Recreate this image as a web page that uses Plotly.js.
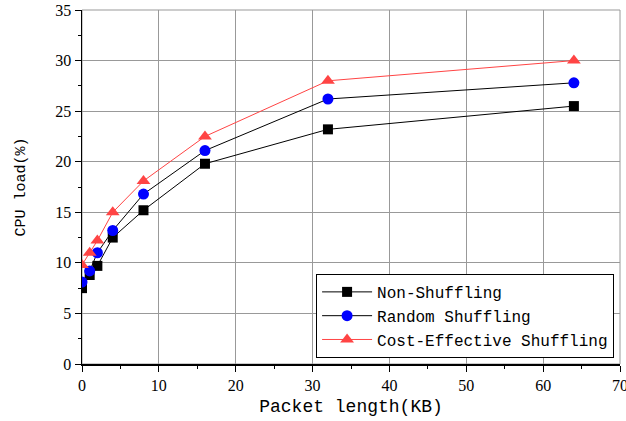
<!DOCTYPE html>
<html><head><meta charset="utf-8">
<script src="https://cdn.plot.ly/plotly-3.0.1.min.js"></script>
<style>body{margin:0;background:#fff}#c{width:626px;height:421px}</style>
</head><body><div id="c"></div>
<script>
const packetLength = [0, 1, 2, 4, 8, 16, 32, 64];
const nonShuffling = [7.5, 8.8, 9.7, 12.5, 15.2, 19.8, 23.2, 25.5];
const randomShuffling = [8.1, 9.2, 11.0, 13.2, 16.8, 21.1, 26.2, 27.8];
const costEffective = [9.8, 11.0, 12.2, 15.0, 18.1, 22.5, 28.0, 30.0];
const seriesNames = ["Non-Shuffling", "Random Shuffling", "Cost-Effective Shuffling"];

const mono = "Liberation Mono, monospace";
const serif = "Liberation Serif, serif";
const traces = [
  {x: packetLength, y: nonShuffling, name: seriesNames[0], mode: "lines+markers",
   line: {color: "#000", width: 1}, marker: {symbol: "square", size: 10, color: "#000"}},
  {x: packetLength, y: randomShuffling, name: seriesNames[1], mode: "lines+markers",
   line: {color: "#000", width: 1}, marker: {symbol: "circle", size: 11, color: "#0000ff"}},
  {x: packetLength, y: costEffective, name: seriesNames[2], mode: "lines+markers",
   line: {color: "#ff4444", width: 1}, marker: {symbol: "triangle-up", size: 12, color: "#ff4444"}}
];
const layout = {
  width: 626, height: 421,
  margin: {l: 82, r: 6, t: 10, b: 57},
  paper_bgcolor: "#fff", plot_bgcolor: "#fff",
  showlegend: true,
  legend: {x: 0.989, y: 0.017, xanchor: "right", yanchor: "bottom",
    bordercolor: "#000", borderwidth: 1, bgcolor: "#fff",
    font: {family: mono, size: 16, color: "#000"}, tracegroupgap: 0, itemwidth: 50},
  shapes: [{type: "rect", xref: "paper", yref: "paper", x0: 0, x1: 1, y0: 0, y1: 1,
    line: {color: "#999", width: 1}, layer: "below"}],
  xaxis: {range: [0, 70], dtick: 10, showgrid: true, gridcolor: "#999", gridwidth: 1,
    zeroline: false, showline: true, linecolor: "#000", linewidth: 1.5,
    ticks: "outside", ticklen: 6, tickcolor: "#000", ticklabeloverflow: "allow",
    minor: {dtick: 5, ticks: "outside", ticklen: 3, tickcolor: "#000", showgrid: false},
    tickfont: {family: serif, size: 16, color: "#000"},
    title: {text: "Packet length(KB)", font: {family: mono, size: 18, color: "#000"}, standoff: 6}},
  yaxis: {range: [0, 35], dtick: 5, showgrid: true, gridcolor: "#999", gridwidth: 1,
    zeroline: false, showline: true, linecolor: "#000", linewidth: 1.5,
    ticks: "outside", ticklen: 6, tickcolor: "#000",
    minor: {dtick: 2.5, ticks: "outside", ticklen: 3, tickcolor: "#000", showgrid: false},
    tickfont: {family: serif, size: 16, color: "#000"},
    title: {text: "CPU load(%)", font: {family: mono, size: 15, color: "#000"}, standoff: 26}}
};
Plotly.newPlot("c", traces, layout, {displayModeBar: false, staticPlot: true});
</script></body></html>
